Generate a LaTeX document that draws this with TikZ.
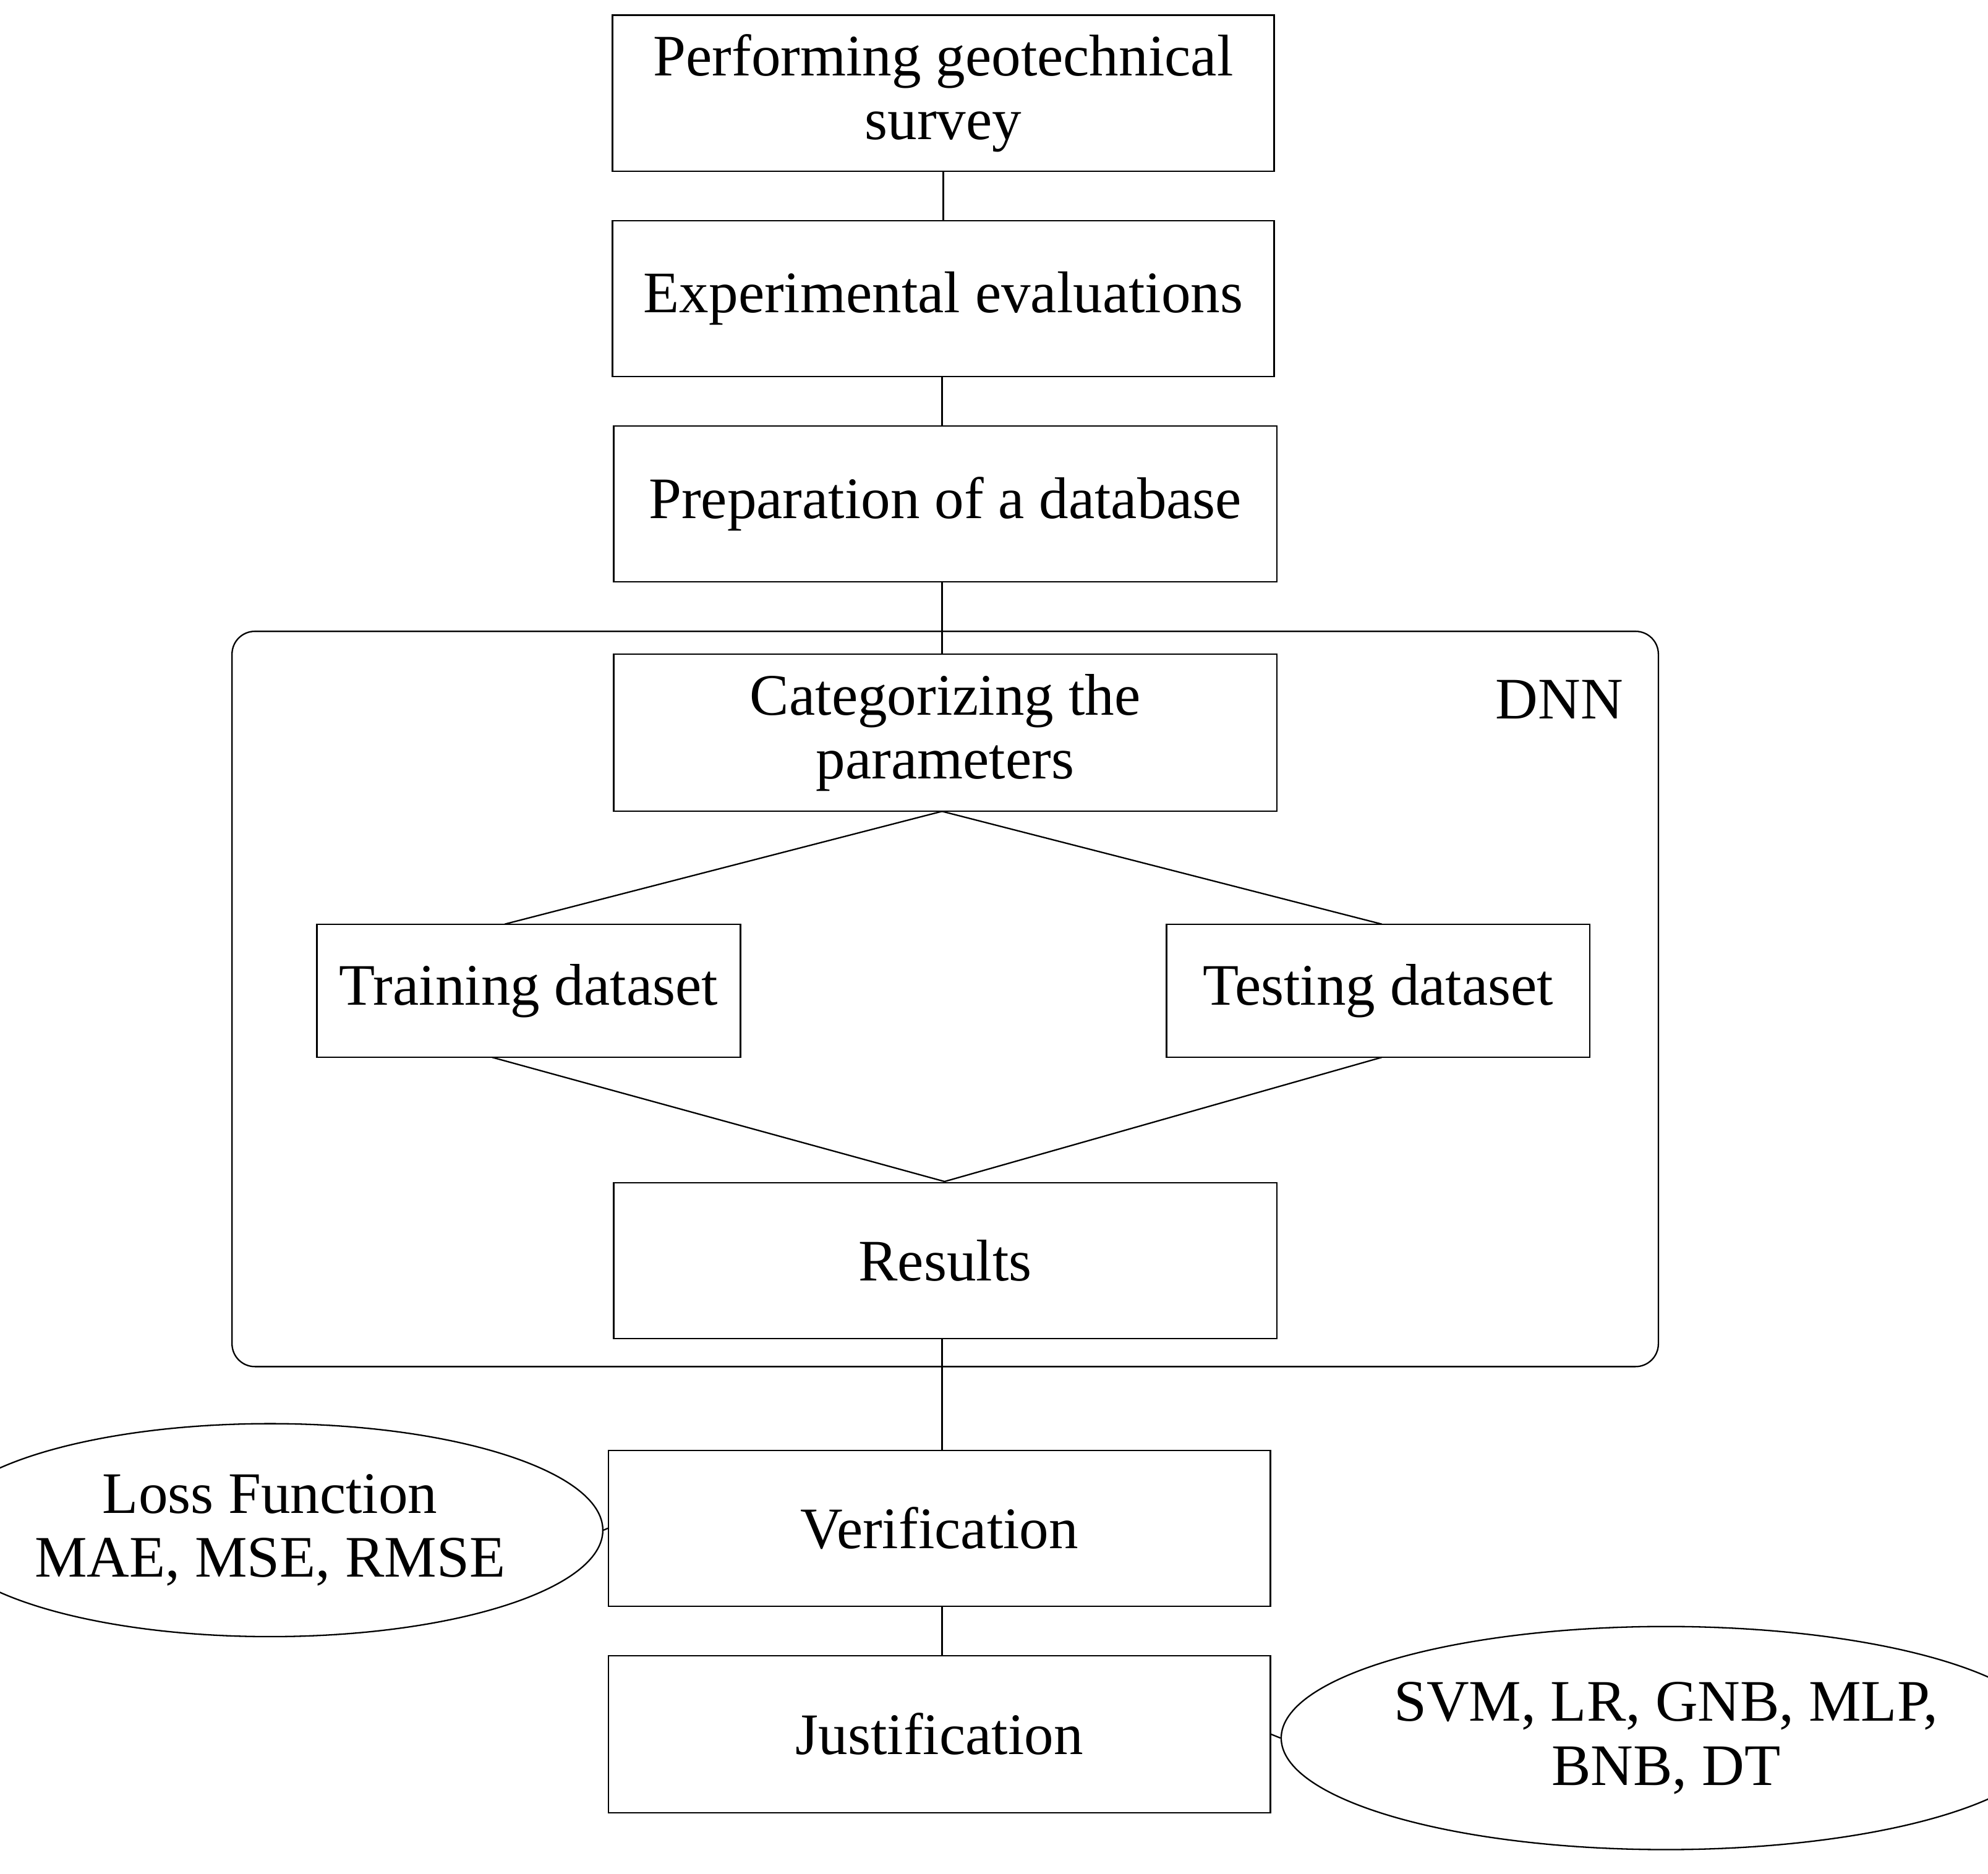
\documentclass[tikz,border=0pt]{standalone}
\usepackage{fontspec}
\setmainfont{Liberation Serif}
\usetikzlibrary{shapes.geometric}
\begin{document}
\begin{tikzpicture}[x=0.05cm,y=-0.05cm,line width=1.6pt,
  box/.style={draw,rectangle,inner sep=0,align=center,font=\fontsize{66}{72}\selectfont},
  ell/.style={draw,ellipse,inner sep=0,align=center,font=\fontsize{66}{72}\selectfont}]
\useasboundingbox (0,0) rectangle (1568,1478);
\draw[rounded corners=0.9cm] (183,498) rectangle (1308,1078);
\node[font=\fontsize{66}{72}\selectfont] (dnn) at (1230,552) {DNN};
\node[box,minimum width=26.1cm,minimum height=6.15cm] (b1) at (744,73.5) {Performing geotechnical\\survey};
\node[box,minimum width=26.1cm,minimum height=6.15cm] (b2) at (744,235.5) {Experimental evaluations};
\node[box,minimum width=26.15cm,minimum height=6.15cm] (b3) at (745.5,397.5) {Preparation of a database};
\node[box,minimum width=26.15cm,minimum height=6.2cm] (b4) at (745.5,578) {Categorizing the\\parameters};
\node[box,minimum width=16.7cm,minimum height=5.25cm] (tr) at (417,781.5) {Training dataset};
\node[box,minimum width=16.7cm,minimum height=5.25cm] (te) at (1087,781.5) {Testing dataset};
\node[box,minimum width=26.15cm,minimum height=6.15cm] (res) at (745.5,994.5) {Results};
\node[box,minimum width=26.1cm,minimum height=6.15cm] (ver) at (741,1205.5) {Verification};
\node[box,minimum width=26.1cm,minimum height=6.2cm] (jus) at (741,1368) {Justification};
\node[ell,minimum width=20.3cm,minimum height=8.4cm] (e1) at (213,1207) {Loss Function\\MAE, MSE, RMSE};
\node[ell,minimum width=24.5cm,minimum height=8.8cm] (e2) at (1314,1371) {SVM, LR, GNB, MLP,\\BNB, DT};
\coordinate (m) at (745,932);
\draw (b1.south) -- (b2.north);
\draw (743,297) -- (743,336);
\draw (743,459) -- (743,516);
\draw (743,640) -- (398,729);
\draw (743,640) -- (1090,729);
\draw (388,834) -- (m) -- (1090,834);
\draw (743,1056) -- (743,1144);
\draw (743,1267) -- (743,1306);
\draw (e1.east) -- (ver.west);
\draw (jus.east) -- (e2.west);
\end{tikzpicture}
\end{document}
